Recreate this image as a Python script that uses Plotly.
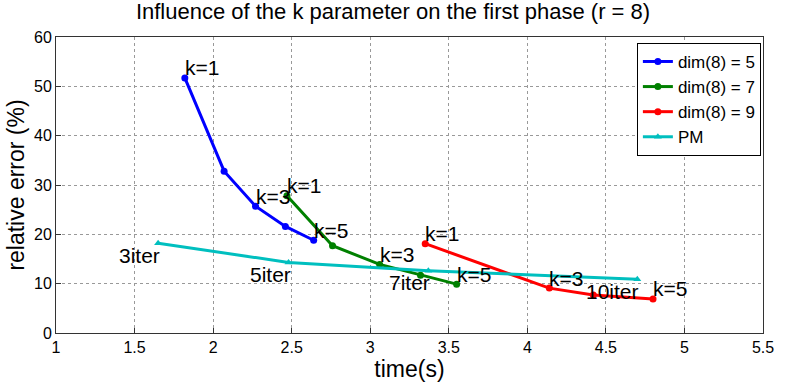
import plotly.graph_objects as go

# ---- data ----
blue_t = [1.82, 2.07, 2.27, 2.46, 2.64]
blue_e = [51.7, 32.8, 25.7, 21.6, 18.8]
green_t = [2.47, 2.76, 3.06, 3.32, 3.55]
green_e = [27.8, 17.7, 13.9, 11.7, 9.9]
red_t = [3.35, 4.14, 4.42, 4.80]
red_e = [18.1, 9.1, 7.7, 6.9]
pm_t = [1.65, 2.48, 3.37, 4.70]
pm_e = [18.2, 14.3, 12.6, 10.9]

series_names = ["dim(8) = 5", "dim(8) = 7", "dim(8) = 9", "PM"]

# k labels: (point index, text)
blue_labels = [(0, "k=1"), (2, "k=3"), (4, "k=5")]
green_labels = [(0, "k=1"), (2, "k=3"), (4, "k=5")]
red_labels = [(0, "k=1"), (1, "k=3"), (3, "k=5")]
pm_labels = ["3iter", "5iter", "7iter", "10iter"]

x_ticks = [1, 1.5, 2, 2.5, 3, 3.5, 4, 4.5, 5, 5.5]
x_tick_text = ["1", "1.5", "2", "2.5", "3", "3.5", "4", "4.5", "5", "5.5"]
y_ticks = [0, 10, 20, 30, 40, 50, 60]

FONT = "Liberation Sans, Arial, sans-serif"

fig = go.Figure()
styles = [
    (blue_t, blue_e, "#0000FF", "circle"),
    (green_t, green_e, "#008000", "circle"),
    (red_t, red_e, "#FF0000", "circle"),
    (pm_t, pm_e, "#00BFBF", "triangle-up"),
]
for (xs, ys, col, sym), name in zip(styles, series_names):
    fig.add_trace(go.Scatter(
        x=xs, y=ys, mode="lines+markers", name=name,
        line=dict(color=col, width=3),
        marker=dict(color=col, size=7, symbol=sym),
    ))

annots = []
for xs, ys, labs in [(blue_t, blue_e, blue_labels),
                     (green_t, green_e, green_labels),
                     (red_t, red_e, red_labels)]:
    for i, txt in labs:
        annots.append(dict(x=xs[i], y=ys[i], text=txt, showarrow=False,
                           xanchor="left", yanchor="middle", yshift=10, xshift=-2,
                           font=dict(size=21, color="black", family=FONT)))
for i, txt in enumerate(pm_labels):
    annots.append(dict(x=pm_t[i], y=pm_e[i], text=txt, showarrow=False,
                       xanchor="right", yanchor="middle", yshift=-12, xshift=4,
                       font=dict(size=21, color="black", family=FONT)))

fig.update_layout(
    width=786, height=386,
    margin=dict(l=56, r=15, t=37, b=51),
    paper_bgcolor="white", plot_bgcolor="white",
    font=dict(family=FONT, color="black"),
    title=dict(text="Influence of the k parameter on the first phase (r = 8)",
               x=0.5, xanchor="center", y=0.99, yanchor="top",
               font=dict(size=22, family=FONT, color="black")),
    annotations=annots,
    legend=dict(x=0.997, y=0.98, xanchor="right", yanchor="top",
                bgcolor="white", bordercolor="black", borderwidth=1,
                font=dict(size=17, family=FONT, color="black"),
                tracegroupgap=0, itemwidth=30),
    xaxis=dict(range=[1, 5.5], tickvals=x_ticks, ticktext=x_tick_text,
               showline=True, linecolor="#333", linewidth=1, mirror=True,
               ticks="inside", ticklen=5, tickcolor="#333",
               showgrid=True, gridcolor="#999", griddash="dot", gridwidth=1,
               zeroline=False,
               tickfont=dict(size=16, family=FONT, color="black"),
               title=dict(text="time(s)", font=dict(size=23, family=FONT, color="black"),
                          standoff=2)),
    yaxis=dict(range=[0, 60], tickvals=y_ticks,
               showline=True, linecolor="#333", linewidth=1, mirror=True,
               ticks="inside", ticklen=5, tickcolor="#333",
               showgrid=True, gridcolor="#999", griddash="dot", gridwidth=1,
               zeroline=False,
               tickfont=dict(size=16, family=FONT, color="black"),
               title=dict(text="relative error (%)", font=dict(size=23, family=FONT, color="black"),
                          standoff=2)),
)

fig.write_html("out.html")
